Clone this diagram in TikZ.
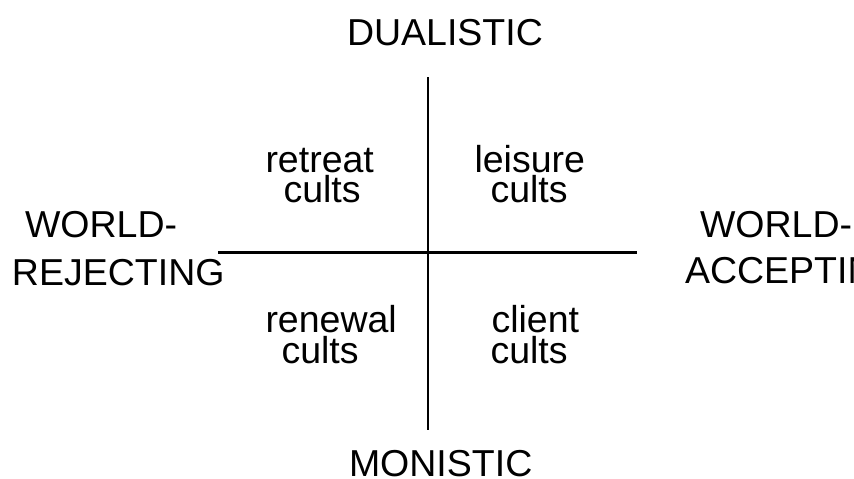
\documentclass[tikz,border=0pt]{standalone}
\usepackage{fontspec}
\setmainfont{Liberation Sans}
\begin{document}
\begin{tikzpicture}[x=1pt,y=-1pt,
  lbl/.style={anchor=base west,inner sep=0pt,outer sep=0pt,font=\fontsize{37.5}{37.5}\selectfont},
  axis/.style={line width=2.3pt,black}]
\useasboundingbox (0,0) rectangle (854,479);
\clip (0,0) rectangle (854,479);
\fill[white] (0,0) rectangle (854,479);
% axes
\coordinate (vtop) at (428,77);
\coordinate (vbot) at (428,430);
\coordinate (hleft) at (218,252.5);
\coordinate (hright) at (637,252.5);
\draw[axis] (vtop) -- (vbot);
\draw[axis] (hleft) -- (hright);
% pole labels
\node[lbl] (dual) at (347,45) {DUALISTIC};
\node[lbl] (mono) at (349,476) {MONISTIC};
\node[lbl] (wl1) at (25,237) {WORLD-};
\node[lbl] (wl2) at (12,285) {REJECTING};
\node[lbl] (wr1) at (700,237) {WORLD-};
\node[lbl] (wr2) at (685,283) {ACCEPTING};
% quadrant labels
\node[lbl] (q1a) at (265.5,172) {retreat};
\node[lbl] (q1b) at (283.5,202) {cults};
\node[lbl] (q2a) at (474.5,172) {leisure};
\node[lbl] (q2b) at (490.5,202) {cults};
\node[lbl] (q3a) at (265.5,332) {renewal};
\node[lbl] (q3b) at (281.5,363) {cults};
\node[lbl] (q4a) at (491.5,332) {client};
\node[lbl] (q4b) at (490.5,363) {cults};
\end{tikzpicture}
\end{document}
